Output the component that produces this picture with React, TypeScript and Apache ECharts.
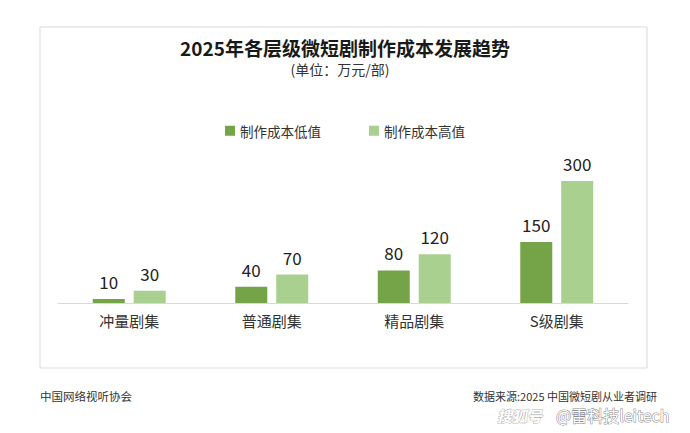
import React, { useEffect, useRef } from "react";
import * as echarts from "echarts";

const categories = ["冲量剧集", "普通剧集", "精品剧集", "S级剧集"];
const lowValues = [10, 40, 80, 150];
const highValues = [30, 70, 120, 300];
const seriesNames = ["制作成本低值", "制作成本高值"];
const titleText = "2025年各层级微短剧制作成本发展趋势";
const subtitleText = "(单位：万元/部)";
const footerLeft = "中国网络视听协会";
const footerRight = "数据来源:2025 中国微短剧从业者调研";

const FONT = "'Noto Sans CJK SC', 'Noto Sans', sans-serif";

export default function App() {
  const ref = useRef<HTMLDivElement>(null);
  useEffect(() => {
    document.body.style.margin = "0";
    const chart = echarts.init(ref.current!, null, { renderer: "svg" });
    chart.setOption({
      animation: false,
      backgroundColor: "#ffffff",
      textStyle: { fontFamily: FONT },
      legend: {
        data: seriesNames,
        left: "center",
        top: 119,
        itemWidth: 10,
        itemHeight: 10,
        itemGap: 48,
        icon: "rect",
        textStyle: { fontSize: 13.5, color: "#333333", fontFamily: FONT },
      },
      grid: { left: 58, right: 62, top: 181, bottom: 130, containLabel: false },
      xAxis: {
        type: "category",
        data: categories,
        axisLine: { lineStyle: { color: "#d9d9d9", width: 1 } },
        axisTick: { show: false },
        axisLabel: { fontSize: 15, color: "#333333", margin: 10, fontFamily: FONT },
      },
      yAxis: { type: "value", min: 0, max: 300, show: false, splitLine: { show: false } },
      series: [
        {
          name: seriesNames[0],
          type: "bar",
          data: lowValues,
          barWidth: 32,
          barGap: "28%",
          itemStyle: { color: "#74a447" },
          label: { show: true, position: "top", distance: 9, fontSize: 17, color: "#222222", fontFamily: FONT },
        },
        {
          name: seriesNames[1],
          type: "bar",
          data: highValues,
          barWidth: 32,
          itemStyle: { color: "#a9d08e" },
          label: { show: true, position: "top", distance: 9, fontSize: 17, color: "#222222", fontFamily: FONT },
        },
      ],
      graphic: [
        {
          type: "rect",
          shape: { x: 40, y: 27, width: 607, height: 341 },
          style: { fill: "none", stroke: "#d9d9d9", lineWidth: 1 },
          silent: true,
        },
        {
          type: "text",
          x: 345,
          y: 47,
          style: { text: titleText, fontSize: 19, fontWeight: "bold", fill: "#1a1a1a", fontFamily: FONT, textAlign: "center", textVerticalAlign: "middle" },
        },
        {
          type: "text",
          x: 340,
          y: 69,
          style: { text: subtitleText, fontSize: 14, fill: "#333333", fontFamily: FONT, textAlign: "center", textVerticalAlign: "middle" },
        },
        {
          type: "text",
          x: 40,
          y: 396,
          style: { text: footerLeft, fontSize: 11.5, fill: "#333333", fontFamily: FONT, textVerticalAlign: "middle" },
        },
        {
          type: "text",
          x: 657,
          y: 396,
          style: { text: footerRight, fontSize: 11, fill: "#333333", fontFamily: FONT, textAlign: "right", textVerticalAlign: "middle" },
        },
        {
          type: "text",
          x: 497,
          y: 415,
          style: { text: "搜狐号", fontSize: 15, fontStyle: "italic", fontWeight: "bold", fill: "#ffffff", stroke: "#b5b5b5", lineWidth: 1, fontFamily: FONT, textVerticalAlign: "middle" },
        },
        {
          type: "text",
          x: 556,
          y: 415,
          style: { text: "@雷科技leitech", fontSize: 16, fill: "#ffffff", stroke: "#8a8a8a", lineWidth: 1, fontFamily: FONT, textVerticalAlign: "middle" },
        },
      ],
    });
    return () => chart.dispose();
  }, []);
  return <div ref={ref} style={{ width: 690, height: 433 }} />;
}
